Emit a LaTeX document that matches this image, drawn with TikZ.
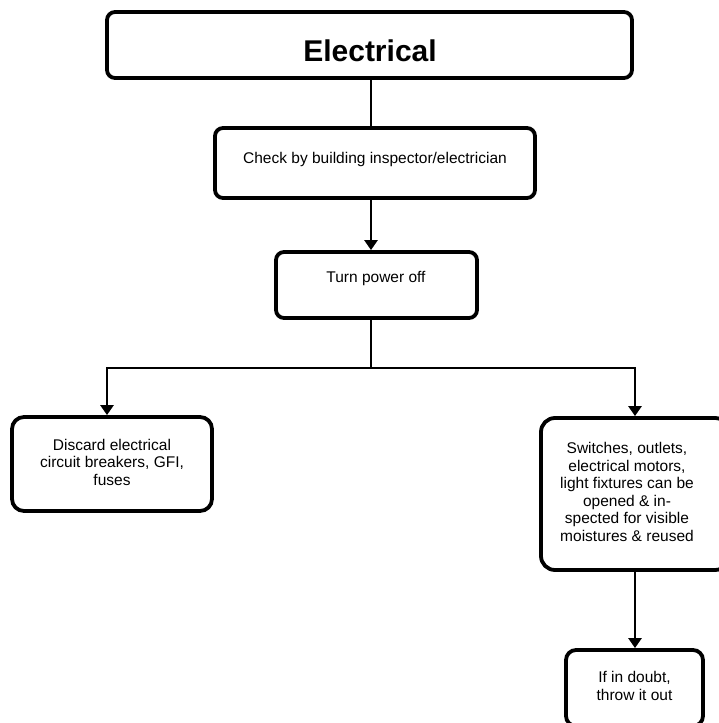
\documentclass[tikz,border=0pt]{standalone}
\usepackage{fontspec}
\setmainfont{Liberation Sans}
\usetikzlibrary{arrows.meta}
\begin{document}
\begin{tikzpicture}[x=1pt,y=-1pt,
  box/.style={draw=black, line width=3.8pt, rounded corners=8pt, fill=white, inner sep=0pt},
  lbl/.style={font=\fontsize{15.5}{17.5}\selectfont, align=center, inner sep=0pt},
  conn/.style={line width=2.8pt},
  arr/.style={conn, -{Triangle[width=13pt,length=10pt]}}]
\useasboundingbox (0,0) rectangle (719,723);
\fill[white] (0,0) rectangle (719,723);
% boxes
\node[box, minimum width=525pt, minimum height=66pt] (b1) at (369.5,45) {};
\node[box, minimum width=320pt, minimum height=70pt] (b2) at (375,163) {};
\node[box, minimum width=201pt, minimum height=66pt] (b3) at (376.5,285) {};
\node[box, rounded corners=12pt, minimum width=200pt, minimum height=94pt] (b4) at (112,464) {};
\node[box, rounded corners=14pt, minimum width=188pt, minimum height=152pt] (b5) at (635,494) {};
\node[box, rounded corners=10pt, minimum width=137pt, minimum height=76pt] (b6) at (634.5,688) {};
% texts
\node[lbl, font=\fontsize{30}{34}\selectfont\bfseries] (t1) at (370,51) {Electrical};
\node[lbl] (t2) at (375,159) {Check by building inspector/electrician};
\node[lbl] (t3) at (376,278) {Turn power off};
\node[lbl] (t4) at (112,462) {Discard electrical\\circuit breakers, GFI,\\fuses};
\node[lbl] (t5) at (627,492) {Switches, outlets,\\electrical motors,\\light fixtures can be\\opened \& in-\\spected for visible\\moistures \& reused};
\node[lbl] (t6) at (634.5,686) {If in doubt,\\throw it out};
% connectors
\coordinate (j) at (371,368);
\coordinate (jl) at (107,368);
\coordinate (jr) at (635,368);
\draw[conn] (b1.south -| j) -- (b2.north -| j);
\draw[arr] (b2.south -| j) -- (b3.north -| j);
\draw[conn] (b3.south -| j) -- (j);
\draw[arr] (j) -- (jl) -- (b4.north -| jl);
\draw[arr] (j) -- (jr) -- (b5.north -| jr);
\draw[arr] (b5.south -| jr) -- (b6.north -| jr);
\end{tikzpicture}
\end{document}
